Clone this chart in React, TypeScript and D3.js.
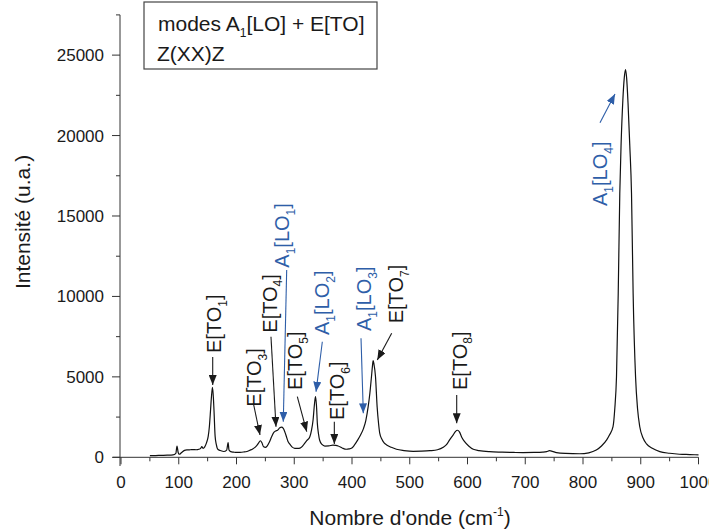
import React from "react";
import * as d3 from "d3";

// Raman spectrum (wavenumber in cm^-1, intensity in a.u.)
const waveNumber = [
  50, 60, 70, 80, 90, 95, 97, 99, 101, 105, 110, 115, 120, 125, 130, 135, 138, 140, 142, 145,
  148, 151, 153, 155, 156.5, 158.4, 160, 161, 163, 165, 168, 172, 178, 183, 185.5, 187, 190, 195,
  200, 206, 212, 218, 223, 228, 233, 236, 239, 241.5, 244, 247, 250, 253, 257, 261, 265, 268, 271,
  275, 278, 281, 284, 286.5, 289, 292, 296, 301, 306, 310, 314, 318, 322, 327, 330, 332.6, 335,
  336.8, 338.5, 340, 342, 344, 348, 353, 360, 367, 372, 376, 383, 390, 395, 399, 404, 410, 415,
  420, 424, 428, 431, 433.7, 435.5, 436.6, 438, 440.7, 443.5, 446, 448, 452, 456, 460, 468, 477,
  490, 506, 520, 535, 548, 558, 564, 569, 575, 579, 582.7, 586, 590, 595, 602, 610, 620, 638, 660,
  680, 696, 715, 730, 737, 742, 747, 754, 770, 794, 810, 823, 832, 841, 846, 852, 855, 858, 861,
  863.7, 866, 869, 871.5, 873.6, 875.5, 878, 881, 884, 886.8, 891, 894.5, 898.3, 904, 910, 920,
  933, 950, 967, 985, 1000,
];
const intensity = [
  100, 110, 120, 130, 150, 250, 700, 300, 190, 300, 430, 460, 470, 480, 470, 500, 560, 660, 560, 650,
  900, 1300, 1900, 2900, 3700, 4350, 3700, 2940, 1300, 800, 480, 420, 360, 450, 910, 450, 350, 320,
  300, 310, 330, 360, 440, 520, 650, 770, 930, 1030, 900, 650, 620, 700, 950, 1300, 1560, 1640, 1680,
  1830, 1870, 1800, 1550, 1280, 1000, 830, 650, 560, 550, 570, 680, 870, 1050, 1280, 1700, 2320, 3300,
  3770, 3200, 2110, 1450, 1060, 800, 700, 710, 760, 740, 700, 580, 500, 520, 560, 750, 1080, 1400,
  1800, 2300, 3150, 4000, 5010, 5700, 6010, 5800, 5010, 3150, 2100, 1500, 1100, 880, 770, 620, 500,
  420, 370, 380, 410, 470, 620, 800, 1080, 1380, 1600, 1680, 1580, 1250, 970, 700, 500, 420, 350, 320,
  300, 290, 300, 320, 350, 410, 370, 290, 240, 220, 280, 450, 700, 1080, 1400, 1900, 3000, 5010, 10200,
  16400, 19500, 22200, 23600, 24100, 23600, 22000, 19400, 16400, 10200, 5010, 3000, 1900, 1200, 830, 560,
  350, 250, 190, 170, 150,
];

const xTickLabels = [0, 100, 200, 300, 400, 500, 600, 700, 800, 900, 1000];
const xMinorTicks = [50, 150, 250, 350, 450, 550, 650, 750, 850, 950];
const yTickLabels = [0, 5000, 10000, 15000, 20000, 25000];
const yMinorTicks = [2500, 7500, 12500, 17500, 22500, 27500];

// Peak assignments (mode family, phonon type, index) with arrow/label anchors in data units
const annFamily = ["E", "E", "E", "A1", "E", "A1", "E", "A1", "E", "E", "A1"];
const annPhonon = ["TO", "TO", "TO", "LO", "TO", "LO", "TO", "LO", "TO", "TO", "LO"];
const annIndex = [1, 3, 4, 1, 5, 2, 6, 3, 7, 8, 4];
const annTailX = [158.8, 229.1, 259.7, 286.9, 305.3, 348.6, 369.4, 415.6, 468.7, 581.3, 829.4];
const annTailY = [6235, 3375, 7496, 11643, 3767, 7186, 2213, 7397, 7708, 3873, 20799];
const annTipX = [158.8, 240.7, 268.4, 281.0, 321.6, 337.7, 369.4, 419.6, 443.8, 581.3, 855.4];
const annTipY = [4494, 1386, 1902, 2213, 1591, 4078, 827, 2735, 6048, 2113, 22583];
const annTextX = [161.4, 230.8, 256.8, 277.6, 300.8, 348.1, 374.5, 419.6, 475.7, 585.8, 829.4];
const annTextY = [6483, 3145, 7745, 11786, 4183, 7602, 2319, 7851, 8330, 4183, 15621];

const FONT = "'Liberation Sans', Arial, Helvetica, sans-serif";
const BLUE = "#2e5ea8";
const INK = "#1a1a1a";

export default function App() {
  const W = 709;
  const H = 531;
  const x = d3.scaleLinear().domain([0, 1000]).range([121, 698.5]);
  const y = d3.scaleLinear().domain([0, 27500]).range([457.3, 14.9]);

  const path =
    d3
      .line<number>()
      .x((_, i) => x(waveNumber[i]))
      .y((d) => y(d))
      .curve(d3.curveMonotoneX)(intensity) || "";

  const sub = (t: string | number, key: string) => [
    <tspan key={key + "s"} fontSize={12} dy={6}>
      {t}
    </tspan>,
  ];

  return (
    <svg
      width={W}
      height={H}
      style={{ position: "absolute", left: 0, top: 0, background: "#fff" }}
      fontFamily={FONT}
    >
      <defs>
        <marker id="ahK" viewBox="0 0 10 8" refX="10" refY="4" markerWidth="10" markerHeight="8" markerUnits="userSpaceOnUse" orient="auto">
          <path d="M0,0 L10,4 L0,8 Z" fill={INK} />
        </marker>
        <marker id="ahB" viewBox="0 0 10 8" refX="10" refY="4" markerWidth="10" markerHeight="8" markerUnits="userSpaceOnUse" orient="auto">
          <path d="M0,0 L10,4 L0,8 Z" fill={BLUE} />
        </marker>
      </defs>

      {/* axes */}
      <line x1={113} x2={698.5} y1={y(0)} y2={y(0)} stroke="#333" strokeWidth={1} />
      <line x1={x(0) - 1} x2={x(0) - 1} y1={y(27500)} y2={466} stroke="#333" strokeWidth={1} />
      {xTickLabels.map((t) => (
        <g key={"xt" + t}>
          <line x1={x(t)} x2={x(t)} y1={y(0)} y2={y(0) + 7} stroke="#333" />
          <text x={x(t)} y={488} fontSize={17} textAnchor="middle" fill={INK}>
            {t}
          </text>
        </g>
      ))}
      {xMinorTicks.map((t) => (
        <line key={"xm" + t} x1={x(t)} x2={x(t)} y1={y(0)} y2={y(0) + 4} stroke="#333" />
      ))}
      {yTickLabels.map((t) => (
        <g key={"yt" + t}>
          <line x1={x(0) - 1} x2={x(0) - 9} y1={y(t)} y2={y(t)} stroke="#333" />
          <text x={104} y={y(t)} dy="0.35em" fontSize={17} textAnchor="end" fill={INK}>
            {t}
          </text>
        </g>
      ))}
      {yMinorTicks.map((t) => (
        <line key={"ym" + t} x1={x(0) - 1} x2={x(0) - 5} y1={y(t)} y2={y(t)} stroke="#333" />
      ))}

      {/* axis titles */}
      <text x={410} y={525} fontSize={21} textAnchor="middle" fill={INK}>
        Nombre d'onde (cm
        <tspan fontSize={12} dy={-9}>-1</tspan>
        <tspan dy={9}>)</tspan>
      </text>
      <text transform={`translate(30,222) rotate(-90)`} fontSize={21} textAnchor="middle" fill={INK}>
        Intensité (u.a.)
      </text>

      {/* spectrum */}
      <path d={path} fill="none" stroke="#111" strokeWidth={1.2} strokeLinejoin="round" />

      {/* annotations */}
      {annFamily.map((fam, i) => {
        const col = fam === "A1" ? BLUE : INK;
        return (
          <g key={"ann" + i}>
            <line
              x1={x(annTailX[i])}
              y1={y(annTailY[i])}
              x2={x(annTipX[i])}
              y2={y(annTipY[i])}
              stroke={col}
              strokeWidth={1.1}
              markerEnd={fam === "A1" ? "url(#ahB)" : "url(#ahK)"}
            />
            <text
              transform={`translate(${x(annTextX[i])},${y(annTextY[i])}) rotate(-90)`}
              fontSize={20}
              fill={col}
            >
              {fam === "A1" ? (
                <>
                  <tspan dy="0.36em">A</tspan>
                  {sub(1, "a" + i)}
                  <tspan dy={-6}>[{annPhonon[i]}</tspan>
                  {sub(annIndex[i], "b" + i)}
                  <tspan dy={-6}>]</tspan>
                </>
              ) : (
                <>
                  <tspan dy="0.36em">E[{annPhonon[i]}</tspan>
                  {sub(annIndex[i], "c" + i)}
                  <tspan dy={-6}>]</tspan>
                </>
              )}
            </text>
          </g>
        );
      })}

      {/* legend box */}
      <rect x={144} y={2} width={233} height={67} fill="#fff" stroke="#444" strokeWidth={1.2} />
      <text x={158} y={31} fontSize={21} fill={INK}>
        modes A
        <tspan fontSize={12} dy={6}>1</tspan>
        <tspan dy={-6}>[LO] + E[TO]</tspan>
      </text>
      <text x={157} y={61} fontSize={21} fill={INK}>
        Z(XX)Z
      </text>
    </svg>
  );
}
